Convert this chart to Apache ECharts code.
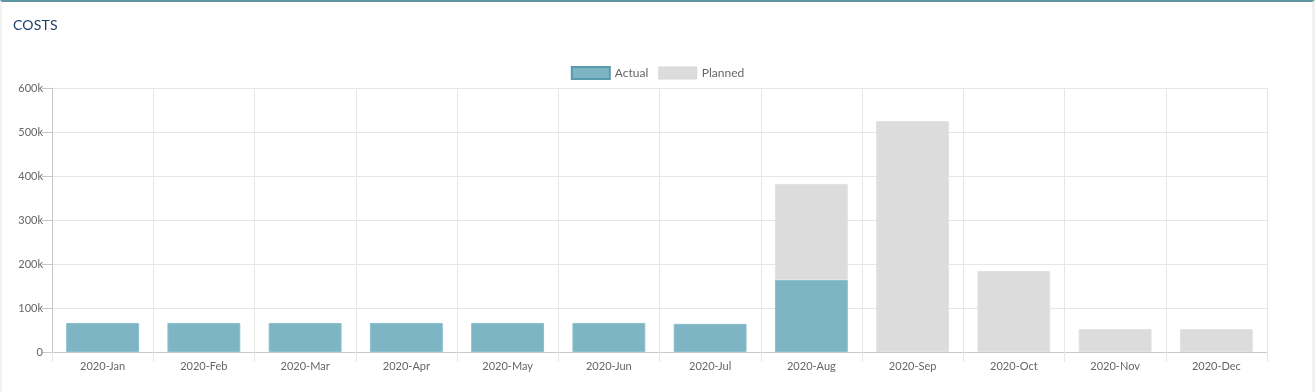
<!DOCTYPE html>
<html><head><meta charset="utf-8">
<script src="https://cdn.jsdelivr.net/npm/echarts@6/dist/echarts.min.js"></script>
<style>
html,body{margin:0;padding:0;background:#fff;}
#wrap{position:absolute;left:0;top:0;width:1315px;height:392px;box-sizing:border-box;border-top:2px solid #5e95a3;border-left:2px solid #f2f2f2;border-right:3px solid #f0f0f0;}
#title{position:absolute;left:13px;top:16px;font-family:"Lato","Open Sans",sans-serif;font-size:14px;color:#1d3c66;letter-spacing:0.2px;}
#chart{position:absolute;left:0;top:0;width:1315px;height:392px;}
</style></head>
<body>
<div id="chart"></div>
<div id="wrap"></div>
<div id="title">COSTS</div>
<script>
const categories = ['2020-Jan','2020-Feb','2020-Mar','2020-Apr','2020-May','2020-Jun','2020-Jul','2020-Aug','2020-Sep','2020-Oct','2020-Nov','2020-Dec'];
const actual = [66000,66000,66000,66000,66000,66000,64000,164000,null,null,null,null];
const planned = [null,null,null,null,null,null,null,218000,525000,184000,52000,52000];
const yTicks = ['0','100k','200k','300k','400k','500k','600k'];

const chart = echarts.init(document.getElementById('chart'), null, {renderer:'canvas'});
const font = '"Lato","Open Sans",sans-serif';
chart.setOption({
  animation:false,
  legend:{
    top:61, left:'center', itemWidth:38, itemHeight:12, itemGap:10, icon:'rect',
    textStyle:{color:'#666', fontSize:12, fontFamily:font},
    data:[
      {name:'Actual', itemStyle:{color:'#7db5c4', borderColor:'#5a9aae', borderWidth:2}},
      {name:'Planned', itemStyle:{color:'#dcdcdc', borderColor:'#d6d6d6', borderWidth:1}}
    ]
  },
  grid:{left:52, right:48, top:88, bottom:40, containLabel:false},
  xAxis:{
    type:'category', data:categories, boundaryGap:true,
    axisLine:{lineStyle:{color:'#c8c8c8'}},
    axisTick:{show:true, length:10, lineStyle:{color:'#e6e6e6'}},
    splitLine:{show:true, lineStyle:{color:'#e6e6e6'}},
    axisLabel:{color:'#666', fontSize:11, fontFamily:font, margin:9}
  },
  yAxis:{
    type:'value', min:0, max:600000, interval:100000,
    axisLine:{show:true, lineStyle:{color:'#c8c8c8'}},
    axisTick:{show:true, length:10, lineStyle:{color:'#c8c8c8'}},
    splitLine:{show:true, lineStyle:{color:'#e6e6e6'}},
    axisLabel:{color:'#666', fontSize:11, fontFamily:font, margin:9,
      formatter:(v)=>yTicks[Math.round(v/100000)]}
  },
  series:[
    {name:'Actual', type:'bar', stack:'c', data:actual, barWidth:'72%',
     itemStyle:{color:'#7db5c4', borderColor:'#8cc0cd', borderWidth:1}},
    {name:'Planned', type:'bar', stack:'c', data:planned, barWidth:'72%',
     itemStyle:{color:'#dcdcdc', borderColor:'#e2e2e2', borderWidth:1}}
  ]
});
</script>
</body></html>
